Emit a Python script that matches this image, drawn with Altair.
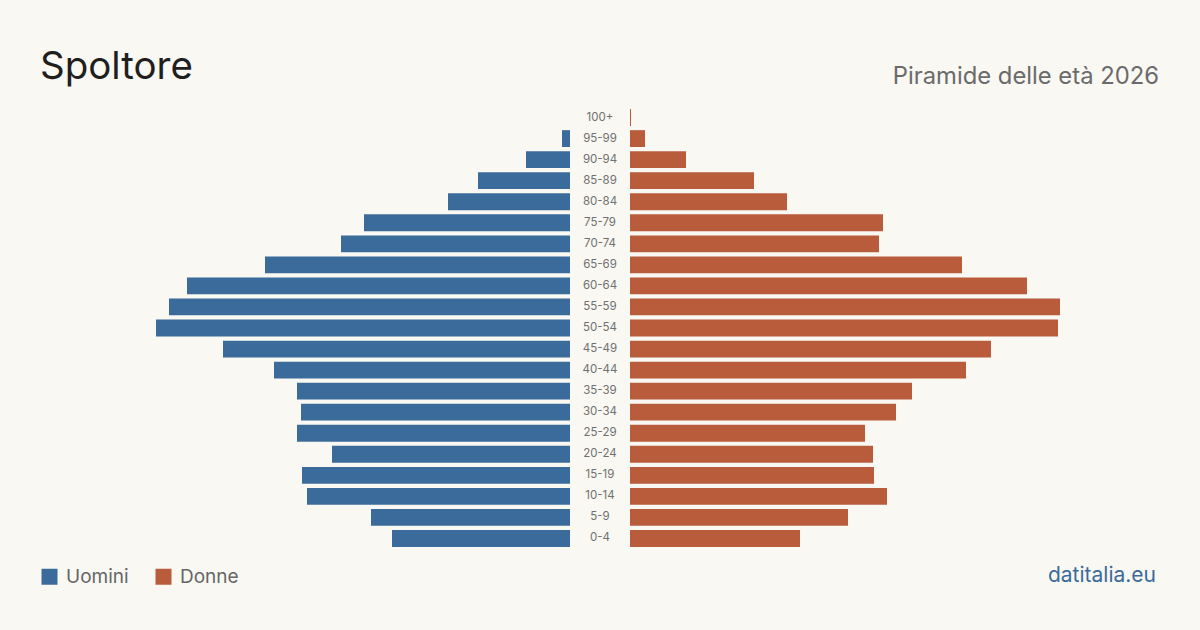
import altair as alt
import pandas as pd

groups = ["100+", "95-99", "90-94", "85-89", "80-84", "75-79", "70-74", "65-69",
          "60-64", "55-59", "50-54", "45-49", "40-44", "35-39", "30-34", "25-29",
          "20-24", "15-19", "10-14", "5-9", "0-4"]
uomini = [0, 16, 88, 184, 244, 412, 458, 610, 766, 802, 828, 694, 592, 546,
          538, 546, 476, 536, 526, 398, 356]
donne = [2, 30, 112, 248, 314, 506, 498, 664, 794, 860, 856, 722, 672, 564,
         532, 470, 486, 488, 514, 436, 340]

GAP = 60  # half of the central label column, in data units

BLUE = "#3b6b9b"
ORANGE = "#b95c3c"
BG = "#f9f8f3"
FONT = "Inter"

rows = []
for g, m, f in zip(groups, uomini, donne):
    rows.append({"eta": g, "sesso": "Uomini", "x": -GAP - m, "x2": -GAP, "v": m})
    rows.append({"eta": g, "sesso": "Donne", "x": GAP, "x2": GAP + f, "v": f})
df = pd.DataFrame(rows)
labels = pd.DataFrame({"eta": groups, "c": [0] * len(groups)})

xscale = alt.Scale(domain=[-1120, 1120], nice=False, zero=False)
yscale = alt.Scale(domain=groups, paddingInner=0.2, paddingOuter=0.1)

bars = alt.Chart(df).mark_bar(cornerRadius=0).encode(
    x=alt.X("x:Q", scale=xscale, axis=None),
    x2="x2:Q",
    y=alt.Y("eta:N", scale=yscale, axis=None, sort=groups),
    color=alt.Color("sesso:N",
                    scale=alt.Scale(domain=["Uomini", "Donne"], range=[BLUE, ORANGE]),
                    legend=alt.Legend(orient="none", legendX=0, legendY=460,
                                      direction="horizontal", title=None,
                                      symbolType="square", symbolSize=256,
                                      symbolStrokeWidth=0, symbolOpacity=1,
                                      labelFontSize=19, labelColor="#666666",
                                      labelFont=FONT, columnPadding=25,
                                      labelOffset=7)),
)

center = alt.Chart(labels).mark_text(fontSize=11.5, color="#707070", font=FONT).encode(
    x=alt.X("c:Q", scale=xscale, axis=None),
    y=alt.Y("eta:N", scale=yscale, axis=None, sort=groups),
    text="eta:N",
)

title = alt.Chart(pd.DataFrame({"t": ["Spoltore"]})).mark_text(
    align="left", baseline="alphabetic", fontSize=38.5, color="#1f1f1f", font=FONT
).encode(x=alt.value(0), y=alt.value(-28), text="t:N")

subtitle = alt.Chart(pd.DataFrame({"t": ["Piramide delle età 2026"]})).mark_text(
    align="right", baseline="alphabetic", fontSize=23.8, color="#6b6b6b", font=FONT
).encode(x=alt.value(1119), y=alt.value(-23), text="t:N")

credit = alt.Chart(pd.DataFrame({"t": ["datitalia.eu"]})).mark_text(
    align="right", baseline="alphabetic", fontSize=21, color="#3b6b9b", font=FONT
).encode(x=alt.value(1116), y=alt.value(475), text="t:N")

chart = alt.layer(bars, center, title, subtitle, credit).properties(
    width=1120, height=442,
    padding={"left": 40, "right": 40, "top": 107, "bottom": 81},
    autosize=alt.AutoSizeParams(type="none"),
    background=BG,
).configure_view(stroke=None)

chart.save("out.html", embed_options={"renderer": "svg", "actions": False})
